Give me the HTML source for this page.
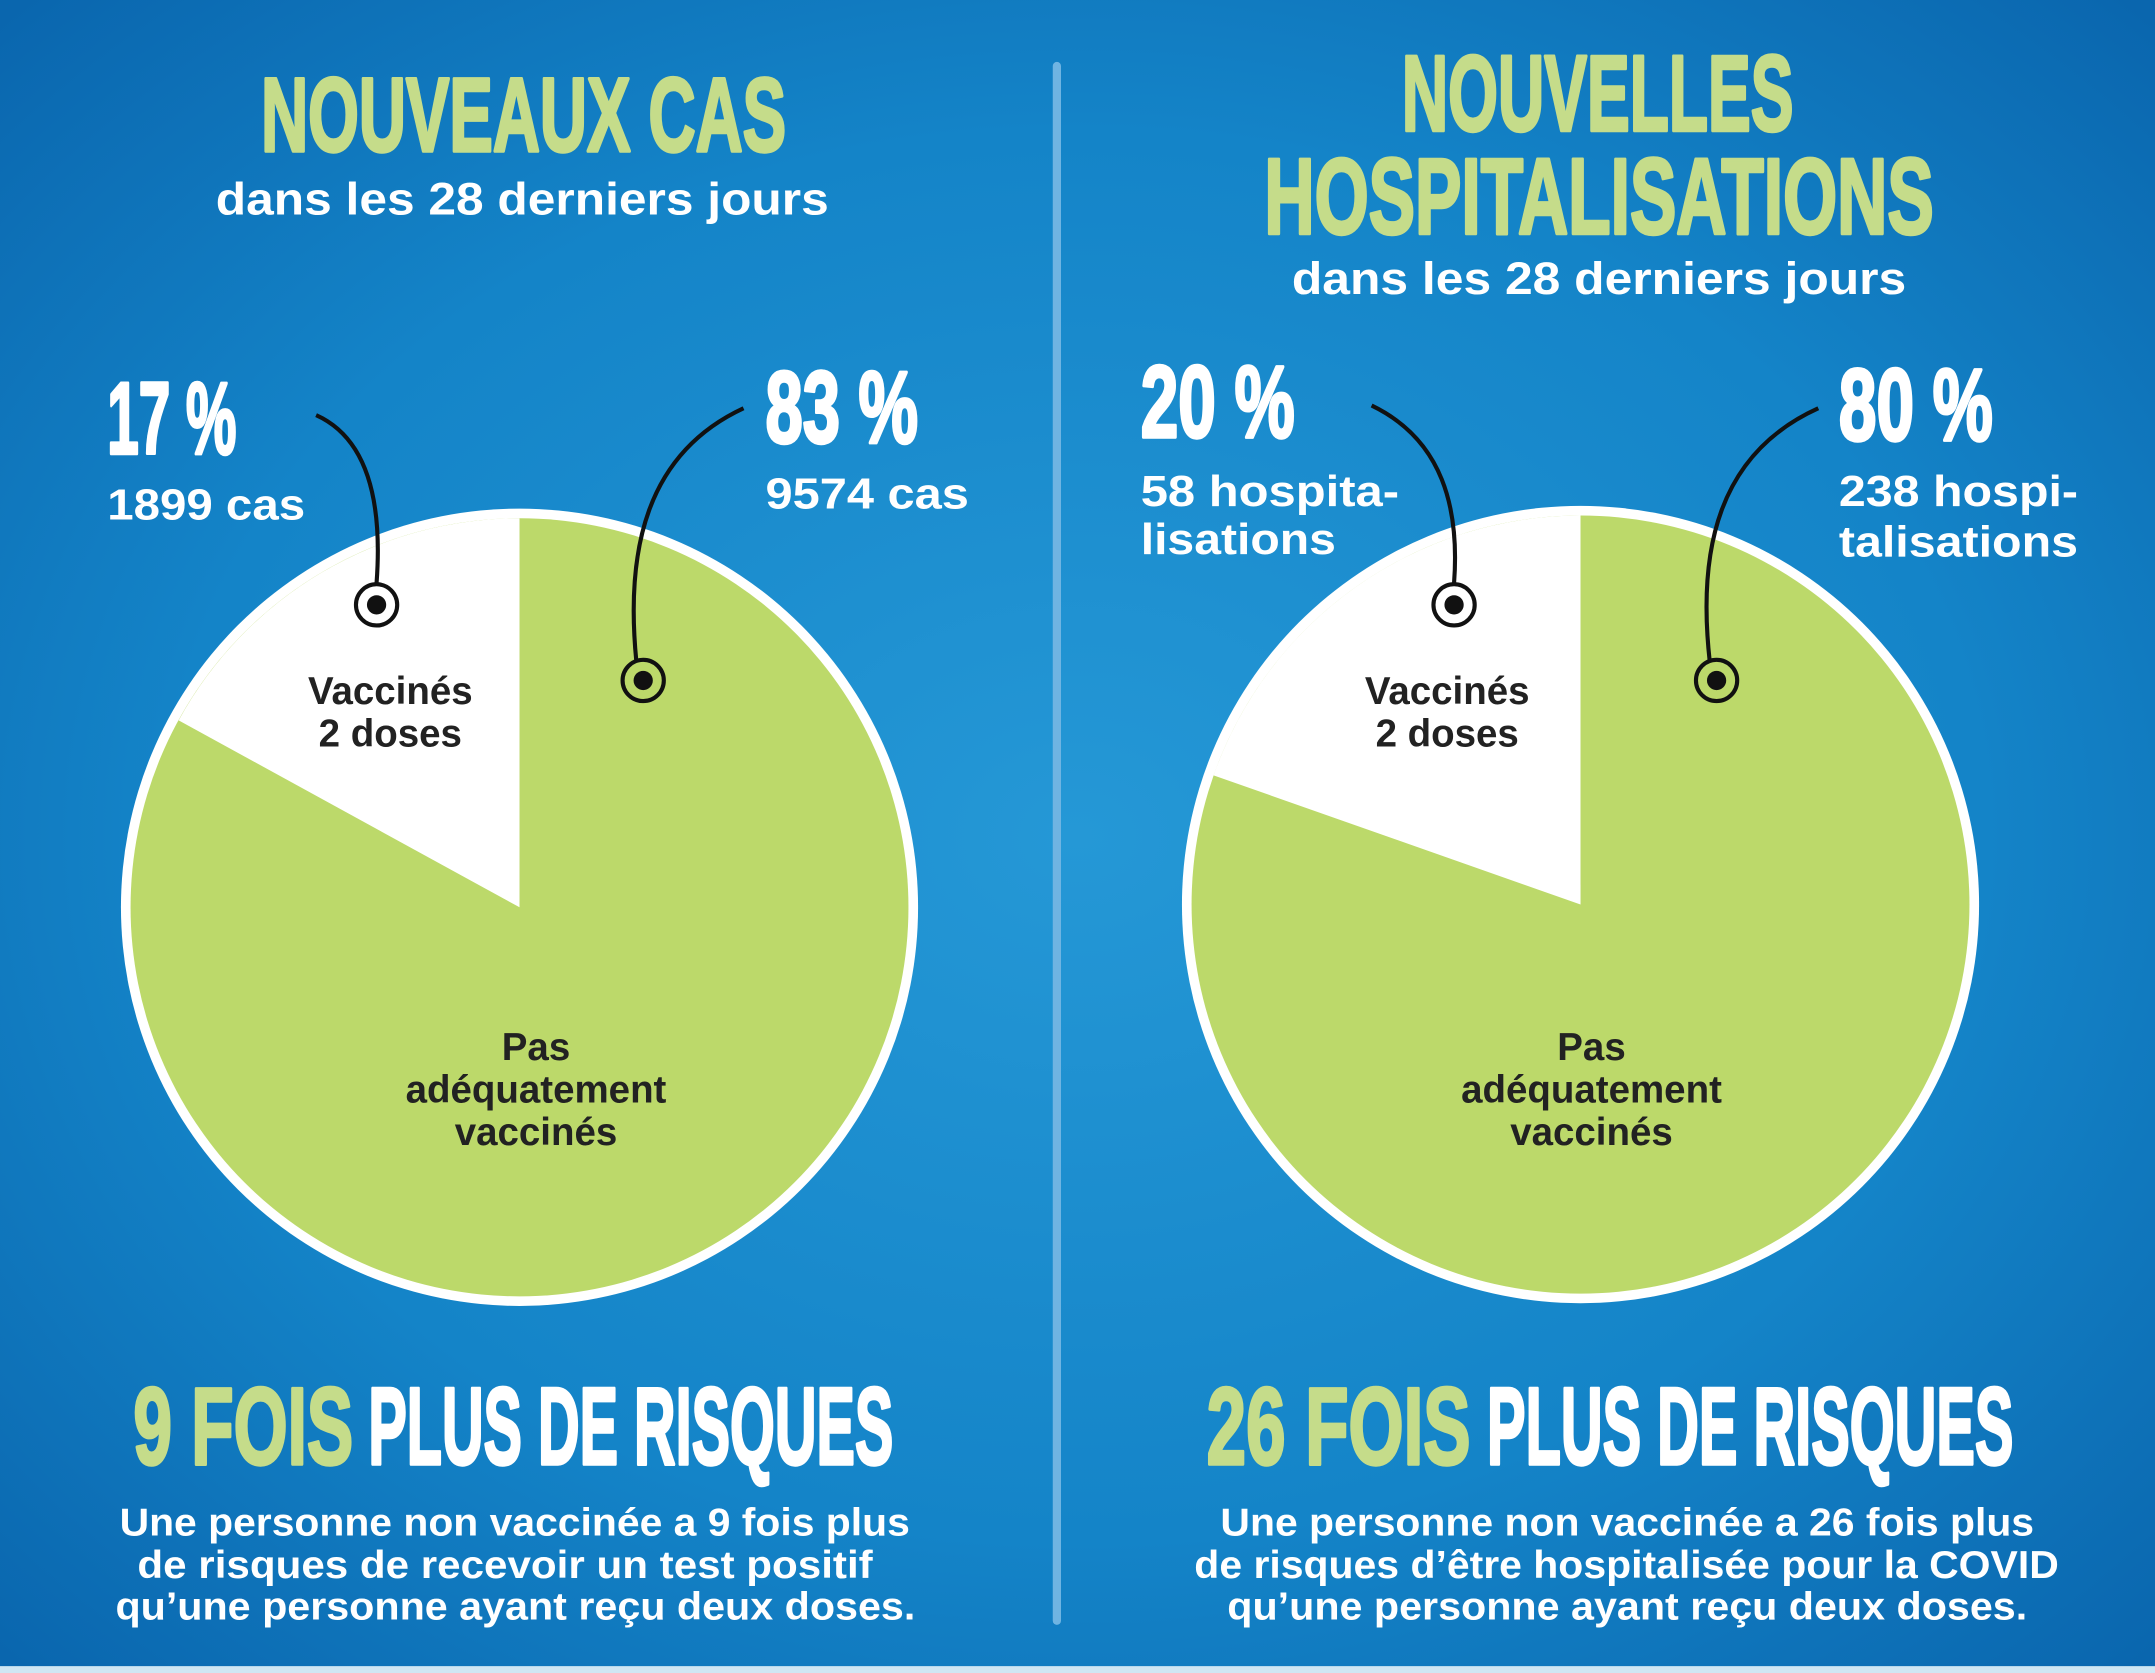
<!DOCTYPE html>
<html><head><meta charset="utf-8"><style>
html,body{margin:0;padding:0;width:2155px;height:1673px;overflow:hidden;background:#0d70b6}
svg{display:block}
.t{font-family:"Liberation Sans",sans-serif;font-weight:bold}
.h{stroke-width:2.5;stroke-linejoin:round}
</style></head><body>
<svg width="2155" height="1673" viewBox="0 0 1568 1217" preserveAspectRatio="none" xmlns="http://www.w3.org/2000/svg">
<defs>
<radialGradient id="bg" cx="50%" cy="50%" r="70%">
<stop offset="0" stop-color="#2598d6"/>
<stop offset="0.6" stop-color="#1484c8"/>
<stop offset="1" stop-color="#0a66ae"/>
</radialGradient>
</defs>
<rect width="1568" height="1217" fill="url(#bg)"/>
<rect x="0" y="1212" width="1568" height="5" fill="#cfe6f3"/>
<rect x="766" y="45" width="6" height="1137" rx="3" fill="#6fb4e2"/>

<g class="t">
<text class="h" x="190" y="110" font-size="76" fill="#c5dc8a" stroke="#c5dc8a" textLength="382" lengthAdjust="spacingAndGlyphs">NOUVEAUX CAS</text>
<text x="157" y="156" font-size="33" fill="#fff" textLength="446" lengthAdjust="spacingAndGlyphs">dans les 28 derniers jours</text>
<text class="h" x="1020" y="95" font-size="78" fill="#c5dc8a" stroke="#c5dc8a" textLength="285" lengthAdjust="spacingAndGlyphs">NOUVELLES</text>
<text class="h" x="920" y="170" font-size="78" fill="#c5dc8a" stroke="#c5dc8a" textLength="487" lengthAdjust="spacingAndGlyphs">HOSPITALISATIONS</text>
<text x="940" y="214" font-size="33" fill="#fff" textLength="447" lengthAdjust="spacingAndGlyphs">dans les 28 derniers jours</text>
</g>

<circle cx="378" cy="660" r="290" fill="#fff"/>
<circle cx="378" cy="660" r="283" fill="#bcd96a"/>
<path d="M378,660 L378,377 A283,283 0 0 0 130,524 Z" fill="#fff"/>
<circle cx="1150" cy="658" r="290" fill="#fff"/>
<circle cx="1150" cy="658" r="283" fill="#bcd96a"/>
<path d="M1150,658 L1150,375 A283,283 0 0 0 883,564 Z" fill="#fff"/>

<g fill="none" stroke="#111" stroke-width="3">
<path d="M230,302 C270,320 278,370 274,424"/>
<path d="M541,297 C470,330 455,400 463,481"/>
<path d="M998,295 C1050,320 1062,370 1058,424"/>
<path d="M1323,297 C1250,330 1235,400 1244,481"/>
<circle cx="274" cy="440" r="15"/><circle cx="468" cy="495" r="15"/>
<circle cx="1058" cy="440" r="15"/><circle cx="1249" cy="495" r="15"/>
</g>
<g fill="#111"><circle cx="274" cy="440" r="7"/><circle cx="468" cy="495" r="7"/><circle cx="1058" cy="440" r="7"/><circle cx="1249" cy="495" r="7"/></g>

<g class="t" fill="#fff">
<text class="h" stroke="#fff" x="78" y="330" font-size="74" textLength="94" lengthAdjust="spacingAndGlyphs">17 %</text>
<text x="78" y="378" font-size="32" textLength="144" lengthAdjust="spacingAndGlyphs">1899 cas</text>
<text class="h" stroke="#fff" x="557" y="322" font-size="74" textLength="111" lengthAdjust="spacingAndGlyphs">83 %</text>
<text x="557" y="370" font-size="32" textLength="148" lengthAdjust="spacingAndGlyphs">9574 cas</text>
<text class="h" stroke="#fff" x="830" y="318" font-size="74" textLength="112" lengthAdjust="spacingAndGlyphs">20 %</text>
<text x="830" y="368" font-size="32" textLength="188" lengthAdjust="spacingAndGlyphs">58 hospita-</text>
<text x="830" y="403" font-size="32" textLength="142" lengthAdjust="spacingAndGlyphs">lisations</text>
<text class="h" stroke="#fff" x="1338" y="320" font-size="74" textLength="112" lengthAdjust="spacingAndGlyphs">80 %</text>
<text x="1338" y="368" font-size="32" textLength="174" lengthAdjust="spacingAndGlyphs">238 hospi-</text>
<text x="1338" y="405" font-size="32" textLength="174" lengthAdjust="spacingAndGlyphs">talisations</text>
</g>

<g class="t" fill="#222" font-size="28" text-anchor="middle">
<text x="284" y="512">Vaccinés</text><text x="284" y="543">2 doses</text>
<text x="390" y="771">Pas</text><text x="390" y="802">adéquatement</text><text x="390" y="833">vaccinés</text>
<text x="1053" y="512">Vaccinés</text><text x="1053" y="543">2 doses</text>
<text x="1158" y="771">Pas</text><text x="1158" y="802">adéquatement</text><text x="1158" y="833">vaccinés</text>
</g>

<g class="t">
<text class="h" stroke="#c5dc8a" x="97" y="1065" font-size="80" fill="#c5dc8a" textLength="160" lengthAdjust="spacingAndGlyphs">9 FOIS</text>
<text class="h" stroke="#fff" x="268" y="1065" font-size="80" fill="#fff" textLength="382" lengthAdjust="spacingAndGlyphs">PLUS DE RISQUES</text>
<text class="h" stroke="#c5dc8a" x="878" y="1065" font-size="80" fill="#c5dc8a" textLength="192" lengthAdjust="spacingAndGlyphs">26 FOIS</text>
<text class="h" stroke="#fff" x="1082" y="1065" font-size="80" fill="#fff" textLength="383" lengthAdjust="spacingAndGlyphs">PLUS DE RISQUES</text>
</g>
<g class="t" fill="#fff" font-size="28">
<text x="87" y="1117" textLength="575" lengthAdjust="spacingAndGlyphs">Une personne non vaccinée a 9 fois plus</text>
<text x="100" y="1148" textLength="535" lengthAdjust="spacingAndGlyphs">de risques de recevoir un test positif</text>
<text x="84" y="1178" textLength="582" lengthAdjust="spacingAndGlyphs">qu’une personne ayant reçu deux doses.</text>
<text x="888" y="1117" textLength="592" lengthAdjust="spacingAndGlyphs">Une personne non vaccinée a 26 fois plus</text>
<text x="869" y="1148" textLength="629" lengthAdjust="spacingAndGlyphs">de risques d’être hospitalisée pour la COVID</text>
<text x="893" y="1178" textLength="582" lengthAdjust="spacingAndGlyphs">qu’une personne ayant reçu deux doses.</text>
</g>
</svg>
</body></html>
